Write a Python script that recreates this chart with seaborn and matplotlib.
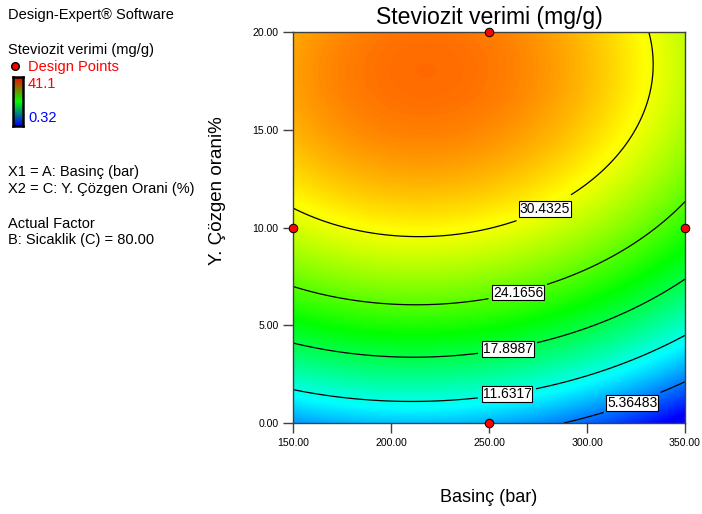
import numpy as np
import matplotlib
matplotlib.use("Agg")
import matplotlib.pyplot as plt
from matplotlib.colors import LinearSegmentedColormap, Normalize
import seaborn as sns
import pandas as pd

# ---- data -------------------------------------------------------------
# Quadratic response-surface model in coded units
# A = (Basinc - 250) / 100, C = (Cozgen - 10) / 10, B (Sicaklik) fixed at 80
model_terms = ["const", "A", "C", "A^2", "C^2", "AC"]
model_coefs = [30.51, -3.38, 14.26, -4.75, -8.75, 0.4]

contour_levels = [5.36483, 11.6317, 17.8987, 24.1656, 30.4325]
label_pos_x = [322, 259, 259, 264, 278]
label_pos_y = [1.33, 1.6, 4.1, 7.0, 11.0]

design_x = [150, 250, 250, 350]
design_y = [10, 0, 20, 10]

x_ticks = [150, 200, 250, 300, 350]
y_ticks = [0, 5, 10, 15, 20]
x_tick_labels = ["150.00", "200.00", "250.00", "300.00", "350.00"]
y_tick_labels = ["0.00", "5.00", "10.00", "15.00", "20.00"]

color_min, color_max = 0.32, 41.1
de_colors = ["#0000ff", "#00ffff", "#00ff00", "#ffff00", "#ff0000"]
legend_colors = ["#0000ff", "#00ff00", "#ff0000"]

# ---- style ------------------------------------------------------------
sns.set_theme(style="white")
plt.rcParams["font.family"] = ["Liberation Sans", "DejaVu Sans"]
plt.rcParams["text.color"] = "black"
plt.rcParams["axes.labelcolor"] = "black"
plt.rcParams["xtick.color"] = "black"
plt.rcParams["ytick.color"] = "black"

W, H = 702, 514
fig = plt.figure(figsize=(W / 100, H / 100), dpi=100)
ax = fig.add_axes([293 / W, 1 - 423 / H, 392 / W, 391 / H])

cmap = LinearSegmentedColormap.from_list("de", de_colors)
norm = Normalize(color_min, color_max)

# surface from model
xs = np.linspace(150, 350, 301)
ys = np.linspace(0, 20, 301)
X, Y = np.meshgrid(xs, ys)
A = (X - 250) / 100
C = (Y - 10) / 10
b = model_coefs
Z = b[0] + b[1] * A + b[2] * C + b[3] * A ** 2 + b[4] * C ** 2 + b[5] * A * C

ax.imshow(Z, origin="lower", extent=[150, 350, 0, 20], aspect="auto",
          cmap=cmap, norm=norm, interpolation="bilinear", zorder=0)
cs = ax.contour(X, Y, Z, levels=contour_levels, colors="black", linewidths=0.9, zorder=2)
labels = ax.clabel(cs, fmt={lv: f"{lv:g}" for lv in contour_levels}, inline=True,
                   fontsize=10, manual=list(zip(label_pos_x, label_pos_y)))
for t in labels:
    t.set_bbox(dict(facecolor="white", edgecolor="black", pad=0.6, linewidth=0.8))
    t.set_rotation(0)
    t.set_color("black")

# design points
pts = pd.DataFrame({"x": design_x, "y": design_y})
sns.scatterplot(data=pts, x="x", y="y", ax=ax, color="red", edgecolor="black",
                linewidth=0.7, s=38, zorder=5, clip_on=False, legend=False)

ax.set_xlim(150, 350)
ax.set_ylim(0, 20)
ax.set_xticks(x_ticks)
ax.set_xticklabels(x_tick_labels)
ax.set_yticks(y_ticks)
ax.set_yticklabels(y_tick_labels)
ax.tick_params(axis="both", direction="out", length=7.5, width=1, color="#404040",
               labelcolor="black", labelsize=7.6, pad=3, bottom=True, left=True)
for s in ax.spines.values():
    s.set_color("#404040")
    s.set_linewidth(1)

ax.set_title("Steviozit verimi (mg/g)", fontsize=16.6, pad=6, color="black")
ax.set_xlabel("Basinç (bar)", fontsize=13)
ax.set_ylabel("Y. Çözgen orani%", fontsize=13.5)
ax.xaxis.set_label_coords(0.5, (423 - 498) / 391)
ax.xaxis.label.set_va("center")
ax.yaxis.set_label_coords((218 - 293) / 392, (423 - 191) / 391)
ax.yaxis.label.set_va("center")

# ---- left-side legend text --------------------------------------------
def ftext(px, py, s, color="black"):
    fig.text(px / W, 1 - py / H, s, va="center", ha="left", fontsize=10.5, color=color)

ftext(8, 15, "Design-Expert® Software")
ftext(8, 50, "Steviozit verimi (mg/g)")
ftext(28, 67, "Design Points", color="red")
fig.add_artist(plt.Line2D([15 / W], [1 - 66 / H], marker="o", color="red",
                          markeredgecolor="black", markersize=5.5, linestyle="none"))
ftext(28, 84, "41.1", color="red")
ftext(28, 118, "0.32", color="blue")
ftext(8, 172, "X1 = A: Basinç (bar)")
ftext(8, 189, "X2 = C: Y. Çözgen Orani (%)")
ftext(8, 224, "Actual Factor")
ftext(8, 240, "B: Sicaklik (C) = 80.00")

cax = fig.add_axes([13 / W, 1 - 126 / H, 10 / W, 49 / H])
grad = np.linspace(0, 1, 200).reshape(-1, 1)
cax.imshow(grad, origin="lower", aspect="auto",
           cmap=LinearSegmentedColormap.from_list("leg", legend_colors))
cax.set_xticks([])
cax.set_yticks([])
for s in cax.spines.values():
    s.set_color("black")
    s.set_linewidth(1.8)

fig.savefig("out.png", dpi=100)
